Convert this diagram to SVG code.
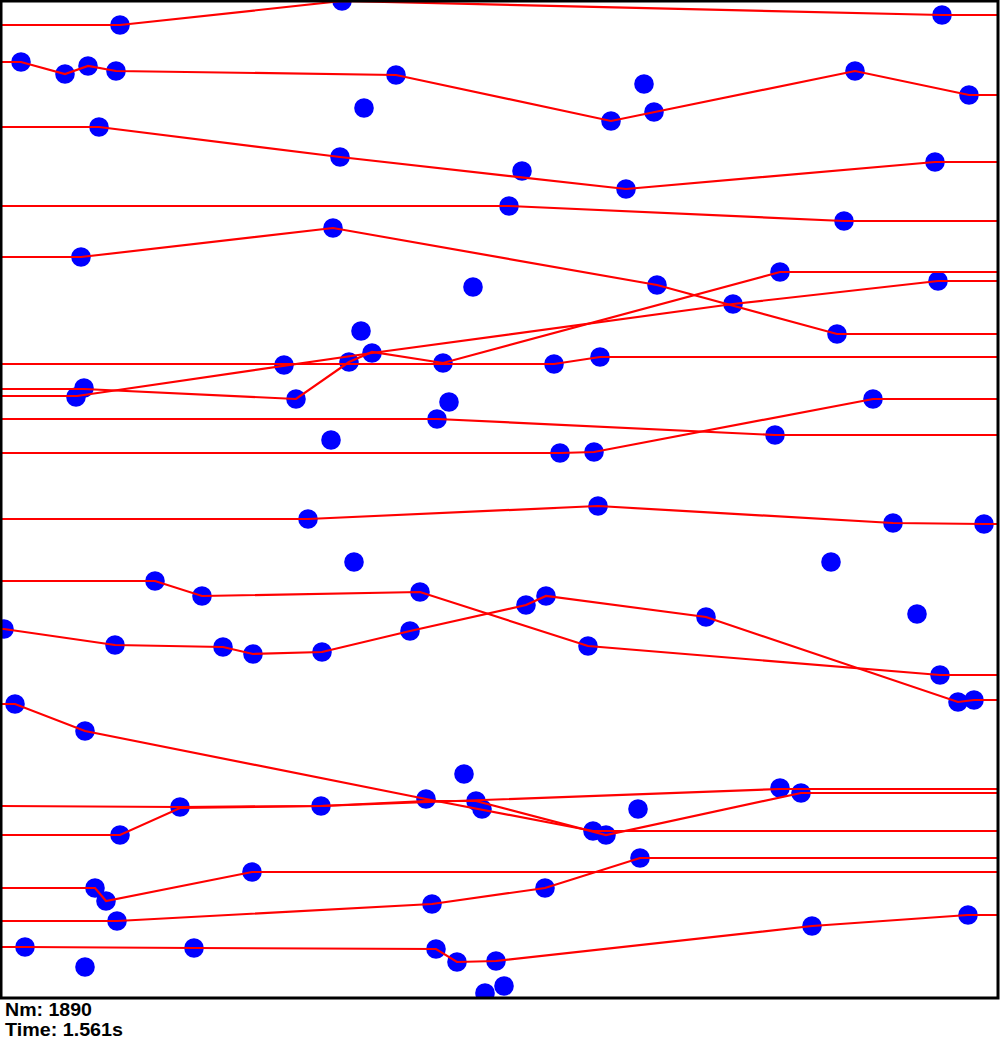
<svg xmlns="http://www.w3.org/2000/svg" width="1000" height="1040" viewBox="0 0 1000 1040">
<style>
.ln{fill:none;stroke:#ff0000;stroke-width:2.2;stroke-linejoin:miter}
.pt{fill:#0000ff}
.txt{font-family:"Liberation Sans",Arial,sans-serif;font-weight:bold;font-size:18px;fill:#000}
</style>
<defs><clipPath id="area"><rect x="0" y="0" width="998" height="998"/></clipPath></defs>
<rect x="0" y="0" width="1000" height="1040" fill="#fff"/>
<g clip-path="url(#area)">
<g id="points">
<circle class="pt" cx="120" cy="25" r="9.8"/><circle class="pt" cx="342" cy="1" r="9.8"/><circle class="pt" cx="942" cy="15" r="9.8"/>
<circle class="pt" cx="21" cy="62" r="9.8"/><circle class="pt" cx="65" cy="74" r="9.8"/><circle class="pt" cx="88" cy="66" r="9.8"/><circle class="pt" cx="116" cy="71" r="9.8"/><circle class="pt" cx="396" cy="75" r="9.8"/><circle class="pt" cx="611" cy="121" r="9.8"/><circle class="pt" cx="654" cy="112" r="9.8"/><circle class="pt" cx="855" cy="71" r="9.8"/><circle class="pt" cx="969" cy="95" r="9.8"/>
<circle class="pt" cx="99" cy="127" r="9.8"/><circle class="pt" cx="340" cy="157" r="9.8"/><circle class="pt" cx="626" cy="189" r="9.8"/><circle class="pt" cx="935" cy="162" r="9.8"/>
<circle class="pt" cx="509" cy="206" r="9.8"/><circle class="pt" cx="844" cy="221" r="9.8"/>
<circle class="pt" cx="81" cy="257" r="9.8"/><circle class="pt" cx="333" cy="228" r="9.8"/><circle class="pt" cx="657" cy="285" r="9.8"/><circle class="pt" cx="837" cy="334" r="9.8"/>
<circle class="pt" cx="284" cy="365" r="9.8"/><circle class="pt" cx="554" cy="364" r="9.8"/><circle class="pt" cx="600" cy="357" r="9.8"/>
<circle class="pt" cx="76" cy="397" r="9.8"/><circle class="pt" cx="733" cy="304" r="9.8"/><circle class="pt" cx="938" cy="281" r="9.8"/>
<circle class="pt" cx="84" cy="388" r="9.8"/><circle class="pt" cx="296" cy="399" r="9.8"/><circle class="pt" cx="349" cy="362" r="9.8"/><circle class="pt" cx="372" cy="353" r="9.8"/><circle class="pt" cx="443" cy="363" r="9.8"/><circle class="pt" cx="780" cy="272" r="9.8"/>
<circle class="pt" cx="437" cy="419" r="9.8"/><circle class="pt" cx="775" cy="435" r="9.8"/>
<circle class="pt" cx="560" cy="453" r="9.8"/><circle class="pt" cx="594" cy="452" r="9.8"/><circle class="pt" cx="873" cy="399" r="9.8"/>
<circle class="pt" cx="308" cy="519" r="9.8"/><circle class="pt" cx="598" cy="506" r="9.8"/><circle class="pt" cx="893" cy="523" r="9.8"/><circle class="pt" cx="984" cy="524" r="9.8"/>
<circle class="pt" cx="155" cy="581" r="9.8"/><circle class="pt" cx="202" cy="596" r="9.8"/><circle class="pt" cx="420" cy="592" r="9.8"/><circle class="pt" cx="588" cy="646" r="9.8"/><circle class="pt" cx="940" cy="675" r="9.8"/>
<circle class="pt" cx="4" cy="629" r="9.8"/><circle class="pt" cx="115" cy="645" r="9.8"/><circle class="pt" cx="223" cy="647" r="9.8"/><circle class="pt" cx="253" cy="654" r="9.8"/><circle class="pt" cx="322" cy="652" r="9.8"/><circle class="pt" cx="410" cy="631" r="9.8"/><circle class="pt" cx="526" cy="605" r="9.8"/><circle class="pt" cx="546" cy="596" r="9.8"/><circle class="pt" cx="706" cy="617" r="9.8"/><circle class="pt" cx="958" cy="702" r="9.8"/><circle class="pt" cx="974" cy="700" r="9.8"/>
<circle class="pt" cx="15" cy="704" r="9.8"/><circle class="pt" cx="85" cy="731" r="9.8"/><circle class="pt" cx="426" cy="799" r="9.8"/><circle class="pt" cx="482" cy="809" r="9.8"/><circle class="pt" cx="593" cy="831" r="9.8"/>
<circle class="pt" cx="180" cy="807" r="9.8"/><circle class="pt" cx="321" cy="806" r="9.8"/><circle class="pt" cx="780" cy="788" r="9.8"/>
<circle class="pt" cx="120" cy="835" r="9.8"/><circle class="pt" cx="476" cy="801" r="9.8"/><circle class="pt" cx="606" cy="835" r="9.8"/><circle class="pt" cx="801" cy="793" r="9.8"/>
<circle class="pt" cx="95" cy="888" r="9.8"/><circle class="pt" cx="106" cy="901" r="9.8"/><circle class="pt" cx="252" cy="872" r="9.8"/>
<circle class="pt" cx="117" cy="921" r="9.8"/><circle class="pt" cx="432" cy="904" r="9.8"/><circle class="pt" cx="545" cy="888" r="9.8"/><circle class="pt" cx="640" cy="858" r="9.8"/>
<circle class="pt" cx="25" cy="947" r="9.8"/><circle class="pt" cx="194" cy="948" r="9.8"/><circle class="pt" cx="436" cy="949" r="9.8"/><circle class="pt" cx="457" cy="962" r="9.8"/><circle class="pt" cx="496" cy="961" r="9.8"/><circle class="pt" cx="812" cy="926" r="9.8"/><circle class="pt" cx="968" cy="915" r="9.8"/>
<circle class="pt" cx="644" cy="84" r="9.8"/><circle class="pt" cx="364" cy="108" r="9.8"/><circle class="pt" cx="522" cy="171" r="9.8"/><circle class="pt" cx="473" cy="287" r="9.8"/><circle class="pt" cx="361" cy="331" r="9.8"/><circle class="pt" cx="449" cy="402" r="9.8"/><circle class="pt" cx="331" cy="440" r="9.8"/><circle class="pt" cx="354" cy="562" r="9.8"/><circle class="pt" cx="831" cy="562" r="9.8"/><circle class="pt" cx="917" cy="614" r="9.8"/><circle class="pt" cx="464" cy="774" r="9.8"/><circle class="pt" cx="638" cy="809" r="9.8"/><circle class="pt" cx="85" cy="967" r="9.8"/><circle class="pt" cx="485" cy="993" r="9.8"/><circle class="pt" cx="504" cy="986" r="9.8"/>
</g>
<g id="connectors">
<polyline class="ln" points="0,25 120,25 342,1 942,15 1000,15"/>
<polyline class="ln" points="0,62 21,62 65,74 88,66 116,71 396,75 611,121 855,71 969,95 1000,95"/>
<polyline class="ln" points="0,127 99,127 340,157 626,189 935,162 1000,162"/>
<polyline class="ln" points="0,206 509,206 844,221 1000,221"/>
<polyline class="ln" points="0,257 81,257 333,228 657,285 837,334 1000,334"/>
<polyline class="ln" points="0,364 554,364 600,357 1000,357"/>
<polyline class="ln" points="0,396 77,396 372,353 733,304 938,281 1000,281"/>
<polyline class="ln" points="0,389 84,389 296,399 349,362 372,352 443,363 780,272 1000,272"/>
<polyline class="ln" points="0,419 437,419 775,435 1000,435"/>
<polyline class="ln" points="0,453 560,453 594,452 873,399 1000,399"/>
<polyline class="ln" points="0,519 308,519 598,506 893,523 984,524 1000,524"/>
<polyline class="ln" points="0,581 155,581 202,596 420,592 588,646 940,675 1000,675"/>
<polyline class="ln" points="0,629 4,629 115,645 223,647 253,654 322,652 410,631 526,605 546,596 706,617 958,702 974,700 1000,700"/>
<polyline class="ln" points="0,704 15,704 85,731 426,799 593,831 1000,831"/>
<polyline class="ln" points="0,806 180,807 321,806 780,789 1000,789"/>
<polyline class="ln" points="0,835 120,835 180,808 321,806 426,801 476,801 606,835 801,793 1000,793"/>
<polyline class="ln" points="0,888 95,888 106,901 252,872 1000,872"/>
<polyline class="ln" points="0,921 117,921 432,904 545,888 640,858 1000,858"/>
<polyline class="ln" points="0,947 25,947 194,948 436,949 457,962 496,961 812,926 968,915 1000,915"/>
</g>
</g>
<rect x="1" y="1" width="997" height="997" fill="none" stroke="#000" stroke-width="3"/>
<text class="txt" x="5" y="1016" textLength="87" lengthAdjust="spacingAndGlyphs">Nm: 1890</text>
<text class="txt" x="5" y="1036" textLength="118" lengthAdjust="spacingAndGlyphs">Time: 1.561s</text>
</svg>
